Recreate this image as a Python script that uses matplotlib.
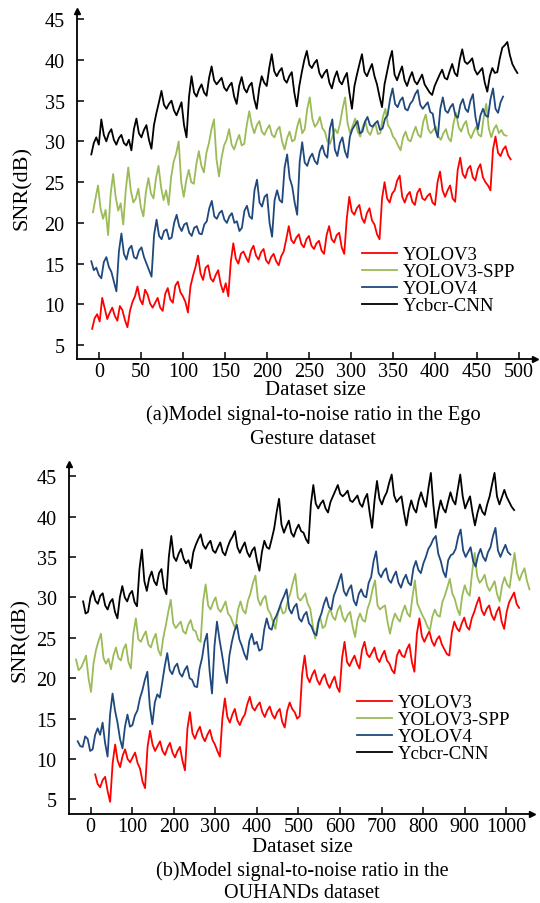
import numpy as np
import matplotlib.pyplot as plt

plt.rcParams['font.family'] = ['Liberation Serif', 'DejaVu Serif']

labels = ['YOLOV3', 'YOLOV3-SPP', 'YOLOV4', 'Ycbcr-CNN']
colors = ['#ff0000', '#9bbb59', '#1f497d', '#000000']

# ---- (a) Ego Gesture: values, evenly spaced between start/end
ego_red = [7.0, 8.3, 8.8, 7.9, 10.8, 9.5, 8.2, 9.0, 9.6, 8.6, 8.0, 9.8, 9.3, 8.1, 7.2, 9.2,
           10.3, 11.0, 12.2, 10.6, 10.0, 11.8, 11.2, 10.1, 9.6, 10.2, 10.8, 9.6, 9.2, 11.3,
           12.0, 10.6, 10.2, 12.3, 12.8, 11.5, 11.0, 10.3, 9.0, 12.2, 13.5, 14.6, 16.0, 13.8,
           13.0, 14.5, 14.8, 13.2, 12.8, 13.6, 14.2, 12.5, 11.5, 12.6, 11.0, 15.2, 17.5, 15.6,
           15.0, 16.2, 16.5, 15.8, 15.2, 16.6, 17.2, 16.0, 15.5, 16.4, 16.8, 15.4, 15.0, 15.8,
           16.2, 15.3, 14.8, 15.9, 16.5, 18.0, 19.6, 17.9, 17.5, 18.2, 18.6, 17.4, 17.0, 18.0,
           18.4, 17.2, 16.8, 17.5, 17.8, 16.6, 16.2, 18.5, 19.6, 18.0, 17.6, 18.5, 18.8, 17.0,
           16.2, 20.5, 23.2, 21.4, 21.0, 21.8, 22.2, 20.6, 20.0, 21.2, 21.8, 20.3, 19.8, 18.6,
           18.0, 23.0, 25.0, 23.0, 22.5, 23.6, 24.0, 25.2, 25.8, 23.2, 22.5, 23.4, 23.8, 22.6,
           22.2, 23.7, 24.2, 23.0, 22.8, 23.3, 23.6, 22.5, 22.2, 25.0, 26.3, 24.0, 23.2, 24.0,
           24.6, 23.0, 22.6, 26.5, 28.0, 26.0, 25.5, 26.6, 27.0, 25.6, 25.2, 26.6, 27.2, 25.6,
           25.0, 24.6, 24.0, 29.0, 30.6, 28.6, 28.2, 29.0, 29.4, 28.3, 27.8]
ego_green = [21.3, 23.0, 24.6, 21.8, 20.5, 21.6, 18.5, 23.5, 26.0, 23.2, 21.5, 22.4, 19.8,
             24.0, 26.8, 24.0, 22.5, 23.0, 24.2, 21.9, 20.8, 23.8, 25.5, 23.6, 23.0, 25.5,
             27.0, 24.4, 22.8, 24.0, 22.2, 25.6, 27.5, 28.5, 30.0, 25.0, 23.2, 25.2, 26.5,
             25.0, 24.8, 27.2, 28.8, 27.0, 26.2, 28.6, 29.8, 31.5, 32.7, 27.8, 25.7, 28.0,
             29.5, 30.2, 31.5, 29.6, 29.0, 30.0, 30.8, 29.5, 29.7, 32.0, 33.7, 32.0, 31.0,
             32.0, 32.5, 31.2, 30.8, 31.5, 32.0, 30.8, 30.5, 31.4, 31.8, 30.0, 29.0, 30.4,
             31.2, 30.0, 30.2, 31.8, 32.8, 31.0, 31.5, 34.0, 35.4, 32.8, 31.8, 32.2, 33.0,
             31.6, 31.2, 30.0, 29.7, 30.6, 31.5, 31.0, 32.2, 34.0, 35.4, 32.2, 31.0, 31.9,
             32.8, 31.2, 30.6, 31.8, 32.5, 31.2, 30.8, 31.7, 32.2, 30.9, 31.0, 33.0, 34.0,
             32.0, 31.5, 30.6, 30.2, 29.5, 28.9, 30.5, 31.2, 30.2, 30.0, 31.0, 31.8, 30.8,
             30.5, 32.4, 33.3, 31.5, 31.0, 31.4, 31.8, 30.6, 30.2, 31.0, 31.5, 30.4, 30.0,
             32.2, 33.5, 31.8, 31.2, 32.0, 32.5, 31.0, 30.4, 31.2, 31.8, 30.8, 30.6, 33.0,
             34.6, 31.6, 30.5, 31.5, 32.0, 31.0, 31.4, 30.8, 30.7]
ego_blue = [15.3, 14.2, 14.5, 13.6, 13.2, 15.2, 15.8, 14.6, 14.0, 12.8, 11.6, 16.5, 18.7,
            16.2, 15.5, 16.8, 17.2, 15.8, 15.6, 16.6, 17.0, 15.8, 15.0, 14.2, 13.4, 18.5,
            20.4, 18.4, 18.0, 19.0, 19.2, 18.0, 18.2, 20.0, 21.0, 19.6, 19.0, 19.8, 20.0,
            18.8, 18.4, 19.4, 19.6, 18.7, 18.6, 19.8, 20.2, 21.8, 22.7, 20.8, 20.5, 21.2,
            21.5, 20.4, 20.0, 20.8, 21.2, 20.0, 20.2, 19.0, 19.4, 21.5, 22.1, 20.8, 20.5,
            24.0, 25.3, 22.5, 22.0, 23.2, 23.5, 20.0, 18.3, 22.8, 24.0, 22.8, 22.5, 26.8,
            28.4, 25.5, 24.5, 22.5, 21.0, 27.5, 29.9, 27.4, 27.0, 28.0, 28.5, 27.6, 27.2,
            28.8, 29.5, 28.4, 28.0, 31.5, 32.7, 29.0, 28.2, 29.8, 30.5, 28.8, 28.0, 30.6,
            31.5, 32.0, 32.5, 31.0, 31.2, 32.4, 33.0, 32.0, 31.8, 32.2, 32.5, 31.4, 31.6,
            32.8, 33.2, 35.2, 36.5, 34.6, 34.2, 35.0, 35.4, 34.0, 33.8, 34.6, 35.0, 35.8,
            36.3, 34.5, 34.0, 34.4, 34.8, 33.6, 33.4, 31.5, 30.5, 34.0, 35.4, 33.8, 33.5,
            34.2, 34.6, 33.2, 32.9, 34.5, 35.2, 34.0, 33.6, 35.0, 35.8, 33.0, 31.5, 33.2,
            34.0, 33.2, 33.0, 35.2, 36.5, 34.0, 33.5, 34.8, 35.5]
ego_black = [28.4, 29.8, 30.5, 29.6, 32.7, 30.8, 30.0, 31.0, 31.5, 30.2, 29.6, 30.4, 30.8,
             29.8, 29.5, 30.2, 28.9, 31.5, 32.8, 31.0, 30.5, 31.4, 32.0, 30.2, 29.1, 32.0,
             33.5, 34.8, 36.2, 34.5, 34.0, 34.6, 35.0, 33.8, 33.2, 34.0, 34.8, 32.0, 30.5,
             35.5, 38.0, 36.0, 35.5, 36.4, 37.0, 36.0, 35.6, 37.8, 39.2, 37.5, 37.0, 37.4,
             37.8, 36.6, 36.2, 36.8, 37.2, 35.5, 34.6, 36.8, 37.9, 36.5, 36.0, 36.8, 37.2,
             35.2, 34.0, 36.5, 38.0, 37.2, 36.8, 39.0, 40.7, 38.6, 38.0, 38.6, 39.0, 37.6,
             37.2, 38.0, 38.5, 36.0, 34.3, 36.8, 38.5, 40.0, 41.1, 39.4, 39.0, 39.6, 40.0,
             38.4, 37.8, 38.4, 38.8, 37.2, 36.5, 37.8, 38.6, 37.4, 37.0, 37.8, 38.4, 36.0,
             34.0, 36.8, 38.2, 39.5, 40.7, 38.5, 38.0, 38.8, 39.5, 38.0, 37.0, 35.5, 34.2,
             37.0, 38.5, 40.0, 41.1, 38.2, 37.5, 38.4, 39.2, 37.5, 36.8, 37.8, 38.5, 37.4,
             37.0, 37.6, 38.2, 37.0, 36.5, 36.0, 35.7, 36.8, 37.5, 38.2, 38.8, 37.8, 37.6,
             38.6, 39.5, 38.4, 38.0, 40.0, 41.3, 39.8, 39.5, 39.8, 40.2, 38.8, 38.2, 38.6,
             39.0, 37.2, 36.1, 38.0, 39.0, 38.4, 38.5, 40.2, 41.5, 41.8, 42.2, 40.6, 39.5,
             38.9, 38.4]
ego_start = [-8, -7, -9, -9]
ego_end = [490, 485, 481, 498]

# ---- (b) OUHANDs
ou_red = [8.1, 6.9, 6.5, 7.4, 7.8, 6.0, 4.7, 9.5, 11.8, 9.8, 9.0, 10.4, 11.2, 10.0, 9.6,
          10.2, 10.8, 9.5, 8.8, 7.2, 6.4, 11.5, 13.5, 11.8, 11.0, 11.6, 12.2, 11.0, 10.5,
          11.4, 12.0, 10.8, 10.2, 11.0, 11.5, 9.8, 8.6, 13.8, 15.8, 13.2, 12.5, 13.4, 14.0,
          12.8, 12.2, 13.0, 13.6, 12.4, 11.8, 11.0, 10.3, 15.0, 17.5, 15.2, 14.5, 15.5, 16.2,
          14.8, 14.2, 15.0, 15.5, 16.8, 17.7, 16.4, 16.0, 16.6, 17.0, 15.8, 15.2, 16.0, 16.5,
          15.5, 15.0, 15.8, 16.2, 14.6, 13.9, 16.0, 17.0, 16.2, 15.8, 15.0, 15.3, 20.5, 22.8,
          20.2, 19.5, 20.4, 21.0, 19.8, 19.2, 20.0, 20.5, 19.4, 18.8, 19.6, 20.2, 18.9, 18.3,
          22.5, 24.5, 22.0, 21.5, 22.2, 22.8, 21.8, 21.2, 23.5, 24.5, 23.0, 22.6, 23.2, 23.8,
          22.5, 22.0, 22.8, 23.4, 22.2, 21.8, 21.0, 20.6, 22.8, 23.5, 22.8, 22.6, 23.6, 24.2,
          22.0, 20.8, 25.5, 27.4, 25.2, 24.5, 25.2, 25.8, 24.6, 24.0, 24.8, 25.2, 24.2, 23.6,
          23.0, 22.8, 25.6, 27.0, 26.2, 25.8, 26.8, 27.5, 26.4, 26.0, 27.4, 28.2, 29.2, 30.0,
          28.4, 27.8, 28.6, 29.0, 27.8, 27.2, 28.2, 28.8, 27.0, 26.1, 28.2, 29.4, 30.0, 30.6,
          29.2, 28.7]
ou_green = [22.3, 21.0, 21.3, 22.0, 22.8, 20.0, 18.3, 21.8, 23.5, 24.6, 25.5, 22.5, 21.8,
            22.4, 21.1, 22.8, 23.8, 22.5, 22.2, 23.6, 24.2, 22.0, 21.2, 25.5, 27.4, 24.8,
            24.5, 25.2, 25.8, 24.2, 23.8, 24.8, 25.5, 23.5, 22.8, 25.0, 26.5, 28.2, 29.7,
            26.8, 26.2, 26.6, 27.0, 25.8, 25.5, 26.6, 27.2, 26.0, 25.8, 24.8, 24.5, 29.5,
            31.6, 29.0, 28.5, 29.4, 30.0, 28.6, 28.2, 28.8, 29.5, 28.0, 27.6, 26.8, 26.1,
            28.5, 29.5, 28.4, 28.0, 29.6, 30.5, 31.8, 32.7, 29.8, 29.0, 29.8, 30.2, 28.5,
            28.0, 27.0, 26.1, 28.0, 29.0, 28.0, 28.2, 29.6, 30.5, 31.8, 32.9, 30.0, 29.6,
            30.0, 30.5, 29.2, 28.6, 26.5, 24.9, 26.8, 27.5, 26.2, 26.5, 27.8, 28.6, 27.6,
            27.2, 28.4, 29.0, 27.6, 27.0, 27.8, 28.2, 26.4, 25.1, 27.2, 28.0, 27.2, 27.0,
            28.6, 29.5, 31.0, 32.1, 29.0, 28.5, 28.8, 29.0, 27.0, 25.5, 27.0, 28.0, 27.4,
            27.0, 28.2, 29.0, 28.0, 27.6, 30.0, 32.1, 29.2, 28.5, 27.8, 27.2, 26.4, 25.9,
            27.6, 28.5, 27.8, 27.6, 29.4, 30.2, 31.2, 32.3, 30.5, 29.8, 28.6, 27.8, 30.2,
            31.5, 30.6, 30.2, 33.2, 35.5, 32.6, 31.8, 32.2, 32.8, 31.4, 30.8, 31.4, 32.0,
            30.4, 29.5, 31.5, 32.5, 31.6, 31.2, 33.5, 35.5, 33.0, 32.1, 33.0, 33.6, 32.0,
            31.0]
ou_blue = [12.2, 11.6, 11.5, 12.8, 12.5, 11.0, 11.2, 13.0, 13.8, 13.0, 14.5, 12.0, 10.3,
           15.5, 18.1, 16.0, 14.5, 12.5, 11.3, 14.0, 15.5, 14.0, 14.2, 15.4, 16.0, 17.5,
           18.5, 19.8, 20.8, 16.5, 14.3, 17.0, 18.0, 17.6, 19.5, 21.5, 23.1, 21.0, 20.5,
           21.4, 21.8, 20.6, 20.2, 21.0, 21.5, 20.0, 19.8, 19.0, 18.9, 21.2, 22.5, 24.5,
           25.5, 21.0, 18.1, 24.0, 27.0, 24.8, 23.0, 21.0, 19.4, 22.8, 24.5, 25.8, 26.6,
           24.8, 24.0, 23.0, 22.3, 24.6, 25.5, 24.2, 24.5, 23.4, 23.6, 26.0, 27.4, 26.2,
           26.0, 27.2, 27.8, 28.6, 29.5, 30.2, 31.0, 28.6, 28.0, 28.8, 29.2, 27.4, 27.0,
           27.8, 28.2, 26.8, 26.4, 25.6, 25.3, 27.2, 28.0, 29.2, 30.0, 28.8, 28.5, 30.2,
           31.0, 32.0, 32.9, 30.8, 30.2, 31.0, 31.5, 29.6, 29.0, 30.4, 31.0, 30.2, 30.0,
           31.8, 32.5, 34.5, 35.7, 33.0, 32.5, 33.2, 33.6, 32.2, 31.8, 32.6, 33.2, 31.8,
           31.2, 32.2, 32.8, 31.8, 31.5, 33.6, 34.5, 33.4, 33.0, 34.2, 35.0, 36.0, 36.5,
           37.2, 37.6, 35.4, 34.5, 33.2, 32.5, 34.6, 35.2, 35.4, 36.0, 37.5, 38.4, 35.8,
           35.0, 35.6, 36.2, 34.5, 33.8, 35.2, 36.0, 35.0, 34.5, 35.6, 36.2, 37.6, 38.6,
           35.8, 35.0, 35.8, 36.5, 35.6, 35.3]
ou_black = [29.5, 28.0, 28.2, 30.0, 30.8, 29.6, 29.2, 30.2, 30.5, 29.0, 28.5, 29.4, 29.8,
            28.2, 27.4, 30.0, 31.4, 30.0, 29.5, 30.4, 30.8, 29.4, 28.9, 33.5, 35.9, 32.0,
            30.8, 32.4, 33.2, 32.0, 31.5, 33.0, 33.5, 31.2, 30.4, 35.0, 37.6, 35.0, 34.5,
            35.4, 36.0, 34.8, 34.2, 34.6, 33.6, 35.6, 36.5, 37.2, 37.8, 36.5, 36.0, 36.6,
            37.0, 35.8, 35.5, 36.2, 36.8, 35.6, 35.2, 36.2, 37.0, 37.5, 38.2, 36.2, 35.5,
            36.2, 36.8, 35.6, 35.0, 35.8, 36.2, 34.5, 33.3, 35.6, 37.0, 36.2, 36.0, 37.2,
            38.5, 40.5, 42.2, 39.0, 38.0, 38.8, 39.5, 38.0, 37.5, 38.4, 39.0, 38.2, 38.0,
            37.2, 36.7, 41.5, 43.9, 41.6, 41.0, 41.6, 42.0, 41.0, 40.5, 41.8, 42.5, 43.2,
            43.9, 42.8, 42.5, 42.8, 43.2, 42.0, 41.8, 42.2, 42.6, 41.6, 41.2, 42.2, 42.8,
            40.5, 38.6, 42.0, 44.4, 42.2, 41.5, 42.4, 43.0, 44.2, 45.2, 42.6, 41.8, 42.2,
            42.5, 40.5, 38.9, 40.8, 42.0, 41.0, 40.5, 42.0, 43.0, 42.0, 41.2, 43.5, 45.4,
            41.5, 38.6, 40.6, 42.0, 41.0, 40.5, 41.8, 43.0, 42.0, 41.5, 43.4, 45.2, 42.5,
            41.0, 41.8, 42.5, 40.5, 38.9, 40.4, 41.5, 40.6, 40.2, 41.5, 42.5, 44.0, 45.4,
            42.5, 41.5, 42.4, 43.3, 42.4, 41.8, 41.2, 40.8]
ou_start = [11, -35, -31, -18]
ou_end = [1031, 1056, 1010, 1019]

ego_xticks = [0, 50, 100, 150, 200, 250, 300, 350, 400, 450, 500]
ou_xticks = [0, 100, 200, 300, 400, 500, 600, 700, 800, 900, 1000]
yticks = [5, 10, 15, 20, 25, 30, 35, 40, 45]

W, H = 540, 904
fig = plt.figure(figsize=(W / 100, H / 100), dpi=100)


def ftext(x, y, s, **kw):
    # place text by pixel position (from top-left)
    fig.text(x / W, 1 - y / H, s, **kw)


def panel(rect, series, starts, ends, xticks, xlim, ylim, leg_xy):
    ax = fig.add_axes(rect)
    for vals, s, e, c, lab in zip(series, starts, ends, colors, labels):
        x = np.linspace(s, e, len(vals))
        ax.plot(x, vals, color=c, lw=1.3, label=lab)
    ax.set_xlim(*xlim)
    ax.set_ylim(*ylim)
    ax.set_xticks(xticks)
    ax.set_yticks(yticks)
    for sp in ['top', 'right']:
        ax.spines[sp].set_visible(False)
    for sp in ['left', 'bottom']:
        ax.spines[sp].set_linewidth(1.3)
    ax.tick_params(axis='both', direction='in', length=5, width=1.1, labelsize=14.5)
    ax.tick_params(axis='y', pad=9)
    ax.tick_params(axis='x', pad=2)
    # arrow heads on the axes
    ax.plot(1, 0, '>', color='k', ms=5, transform=ax.transAxes, clip_on=False)
    ax.plot(0, 1, '^', color='k', ms=5, transform=ax.transAxes, clip_on=False)
    ax.legend(loc='upper left', bbox_to_anchor=leg_xy, bbox_transform=fig.transFigure,
              frameon=False, prop={'size': 13.5}, handlelength=1.85, handletextpad=0.35,
              labelspacing=0.0, borderpad=0, borderaxespad=0)
    return ax


panel([77 / W, 1 - 360 / H, 458 / W, 348 / H],
      [ego_red, ego_green, ego_blue, ego_black], ego_start, ego_end,
      ego_xticks, (-26, 519), (3.3, 46), (362 / W, 1 - 247 / H))
ftext(22, 188, 'SNR(dB)', rotation=90, ha='center', va='center', fontsize=16)
ftext(315, 391, 'Dataset size', ha='center', va='center', fontsize=15)
ftext(313, 415, '(a)Model signal-to-noise ratio in the Ego', ha='center', va='center',
      fontsize=14.8)
ftext(313, 439, 'Gesture dataset', ha='center', va='center', fontsize=14.8)

panel([69 / W, 1 - 815 / H, 463 / W, 350 / H],
      [ou_red, ou_green, ou_blue, ou_black], ou_start, ou_end,
      ou_xticks, (-52, 1062), (3.2, 46.5), (357 / W, 1 - 695 / H))
ftext(20, 640, 'SNR(dB)', rotation=90, ha='center', va='center', fontsize=16)
ftext(302, 848, 'Dataset size', ha='center', va='center', fontsize=15)
ftext(302, 871, '(b)Model signal-to-noise ratio in the', ha='center', va='center',
      fontsize=14.5)
ftext(302, 903, 'OUHANDs dataset', ha='center', va='bottom', fontsize=14.5)

fig.savefig('out.png', dpi=100)
